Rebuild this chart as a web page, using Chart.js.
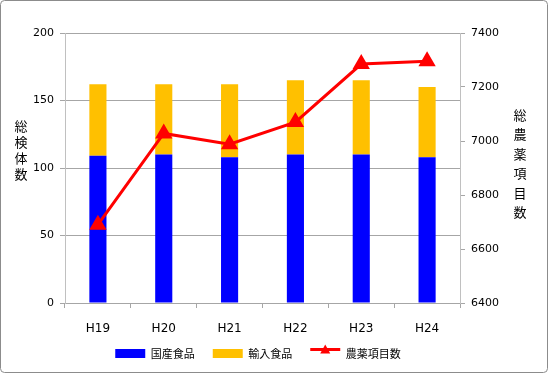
<!DOCTYPE html>
<html>
<head>
<meta charset="utf-8">
<script src="https://cdn.jsdelivr.net/npm/chart.js@4/dist/chart.umd.min.js"></script>
<style>
  html, body { margin: 0; padding: 0; background: #fff; }
  #wrap { width: 548px; height: 373px; position: relative; }
</style>
</head>
<body>
<div id="wrap"><canvas id="chart" width="548" height="373"></canvas></div>
<script>
// --- DATA ---
const years = ['H19', 'H20', 'H21', 'H22', 'H23', 'H24'];
const domestic = [109, 110, 108, 110, 110, 108];
const imported = [53, 52, 54, 55, 55, 52];
const pesticideItems = [6690, 7028, 6988, 7070, 7285, 7295];

const leftTitle = ['総', '検', '体', '数'];
const rightTitle = ['総', '農', '薬', '項', '目', '数'];

const FONT = "'DejaVu Sans', 'Noto Sans CJK JP', sans-serif";
const JP_FONT = "'Noto Sans CJK JP', sans-serif";

const LEGEND_DX = -16;
const LEGEND_DY = -4;

// frame + vertical axis titles + legend line sample
const extras = {
    id: 'extras',
    afterLayout(chart) {
        // legend sits centred under the plot area, a little higher
        const lg = chart.legend;
        lg.left += LEGEND_DX;
        lg.right += LEGEND_DX;
        lg.top += LEGEND_DY;
        lg.bottom += LEGEND_DY;
        (lg.legendHitBoxes || []).forEach((b) => {
            b.left += LEGEND_DX;
            b.top += LEGEND_DY;
        });
    },
    beforeDraw(chart) {
        const ctx = chart.ctx;
        ctx.save();
        ctx.fillStyle = '#fff';
        ctx.fillRect(0, 0, chart.width, chart.height);
        ctx.restore();
    },
    afterDraw(chart) {
        const ctx = chart.ctx;
        ctx.save();
        ctx.strokeStyle = '#8c8c8c';
        ctx.lineWidth = 1;
        ctx.beginPath();
        ctx.roundRect(0.5, 0.5, chart.width - 1, chart.height - 1, 4);
        ctx.stroke();

        ctx.fillStyle = '#000';
        ctx.font = '13px ' + JP_FONT;
        ctx.textAlign = 'center';
        ctx.textBaseline = 'middle';
        leftTitle.forEach((ch, i) => ctx.fillText(ch, 21, 126 + i * 16));
        rightTitle.forEach((ch, i) => ctx.fillText(ch, 520, 115 + i * 19.5));

        // line + triangle on the line legend entry
        const boxes = chart.legend.legendHitBoxes;
        if (boxes && boxes[2]) {
            const b = boxes[2];
            const cx = b.left + 15, cy = b.top + b.height / 2;
            ctx.strokeStyle = '#ff0000';
            ctx.lineWidth = 3;
            ctx.beginPath();
            ctx.moveTo(b.left, cy);
            ctx.lineTo(b.left + 30, cy);
            ctx.stroke();
            ctx.fillStyle = '#ff0000';
            ctx.beginPath();
            ctx.moveTo(cx, cy - 5);
            ctx.lineTo(cx + 5, cy + 4);
            ctx.lineTo(cx - 5, cy + 4);
            ctx.closePath();
            ctx.fill();
        }
        ctx.restore();
    },
};

const ctx = document.getElementById('chart').getContext('2d');
new Chart(ctx, {
    data: {
        labels: years,
        datasets: [
            {
                type: 'line',
                label: '農薬項目数',
                data: pesticideItems,
                yAxisID: 'y2',
                borderColor: '#ff0000',
                backgroundColor: '#ff0000',
                borderWidth: 3,
                pointStyle: 'triangle',
                pointRadius: 7,
                pointBackgroundColor: '#ff0000',
                pointBorderColor: '#ff0000',
                tension: 0,
                order: 0,
            },
            {
                type: 'bar',
                label: '国産食品',
                data: domestic,
                yAxisID: 'y',
                backgroundColor: '#0000ff',
                barPercentage: 0.26,
                categoryPercentage: 1,
                order: 1,
            },
            {
                type: 'bar',
                label: '輸入食品',
                data: imported,
                yAxisID: 'y',
                backgroundColor: '#ffc000',
                barPercentage: 0.26,
                categoryPercentage: 1,
                order: 1,
            },
        ],
    },
    options: {
        responsive: false,
        animation: false,
        layout: { padding: { top: 33, left: 0, right: 0, bottom: 0 } },
        plugins: {
            tooltip: { enabled: false },
            legend: {
                position: 'bottom',
                labels: {
                    color: '#000',
                    font: { family: JP_FONT, size: 11 },
                    boxWidth: 30,
                    boxHeight: 9,
                    padding: 18,
                    sort: (a, b) => [1, 2, 0].indexOf(a.datasetIndex) - [1, 2, 0].indexOf(b.datasetIndex),
                    generateLabels(chart) {
                        const items = Chart.defaults.plugins.legend.labels.generateLabels(chart);
                        items.forEach((it) => {
                            it.lineWidth = 0;
                            if (it.datasetIndex === 0) it.fillStyle = 'rgba(0,0,0,0)';
                        });
                        return items;
                    },
                },
            },
        },
        scales: {
            x: {
                stacked: true,
                offset: true,
                grid: {
                    offset: true,
                    drawOnChartArea: false,
                    tickLength: 5,
                    color: '#a6a6a6',
                },
                border: { color: '#a6a6a6' },
                ticks: { color: '#000', font: { family: FONT, size: 12 }, padding: 14 },
                afterFit: (s) => { s.height = 31; },
            },
            y: {
                stacked: true,
                position: 'left',
                min: 0,
                max: 200,
                ticks: { stepSize: 50, color: '#000', font: { family: FONT, size: 11 }, padding: 6 },
                grid: { color: '#a6a6a6', tickLength: 5 },
                border: { color: '#c0c0c0' },
                afterFit: (s) => { s.width = 65; },
            },
            y2: {
                position: 'right',
                min: 6400,
                max: 7400,
                ticks: {
                    stepSize: 200,
                    color: '#000',
                    font: { family: FONT, size: 11 },
                    padding: 6,
                    callback: (v) => String(v),
                },
                grid: { drawOnChartArea: false, color: '#a6a6a6', tickLength: 5 },
                border: { color: '#c0c0c0' },
                afterFit: (s) => { s.width = 88; },
            },
        },
    },
    plugins: [extras],
});
</script>
</body>
</html>
